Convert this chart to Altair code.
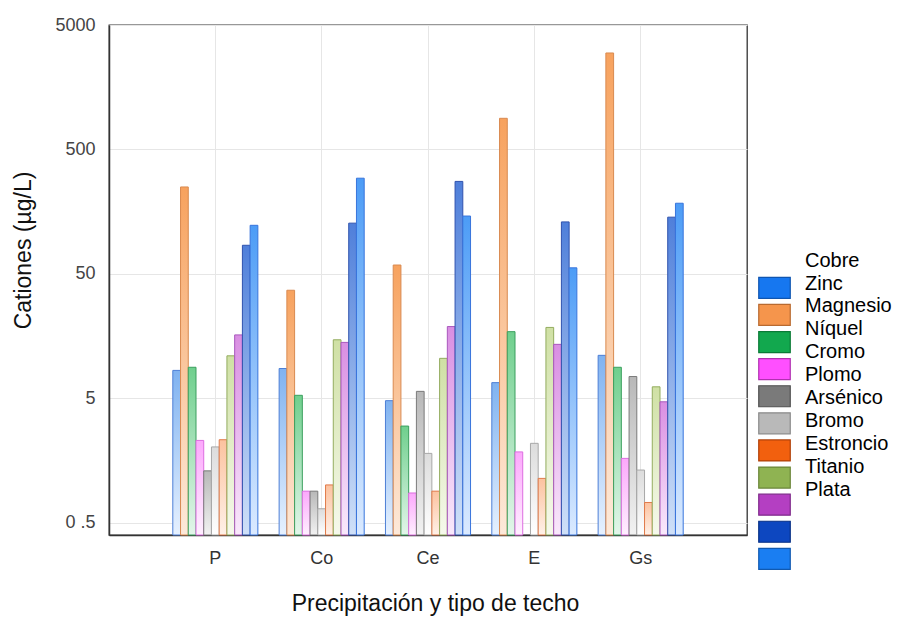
import altair as alt
import pandas as pd

groups = ["P", "Co", "Ce", "E", "Gs"]
series = ["Cobre", "Zinc", "Magnesio", "Níquel", "Cromo", "Plomo",
          "Arsénico", "Bromo", "Estroncio", "Titanio", "Plata"]

cobre = [8.4, 8.7, 4.8, 6.7, 11.1]
zinc = [250, 37, 59, 890, 2980]
magnesio = [8.9, 5.3, 3.0, 17.2, 8.9]
niquel = [2.3, 0.9, 0.87, 1.86, 1.65]
cromo = [1.31, 0.9, 5.7, None, 7.5]
plomo = [2.04, 0.65, 1.81, 2.18, 1.33]
arsenico = [2.33, 1.01, 0.90, 1.14, 0.73]
bromo = [11.0, 14.8, 10.5, 18.6, 6.2]
estroncio = [16.2, 14.1, 18.9, 13.6, 4.7]
titanio = [85, 128, 277, 131, 143]
plata = [123, 294, 146, 56, 185]

values = [cobre, zinc, magnesio, niquel, cromo, plomo,
          arsenico, bromo, estroncio, titanio, plata]

bar_top = ["#7fb2f0", "#f7a25e", "#6fcf8d", "#fca8fc", "#b8b8b8", "#dcdcdc",
           "#fcc29f", "#cfe0a4", "#d98ee2", "#4f7fda", "#4c9cf6"]
bar_bottom = ["#e6f1ff", "#fde9da", "#e3f6ea", "#fff0ff", "#f2f2f2", "#ffffff",
              "#fff1e8", "#f6f9ec", "#f9e9fb", "#cfe0f8", "#dbeaff"]
bar_stroke = ["#4d7fd6", "#d98a50", "#3b9f5e", "#dd6ee0", "#7a7a7a", "#a8a8a8",
              "#e07a4a", "#93ac5e", "#a957bd", "#2f52ae", "#3874dc"]

swatch_fill = ["#1677f0", "#f5954c", "#12a84e", "#ff4fff", "#7a7a7a", "#b9b9b9",
               "#f2600e", "#8fb352", "#b43fc2", "#0d47c0", "#1a7ef2"]
swatch_edge = ["#0f55b0", "#b86a30", "#0a7a36", "#b030b0", "#505050", "#8a8a8a",
               "#b04008", "#6a8538", "#7f2a8a", "#062f85", "#1059b0"]

y_ticks = [0.5, 5, 50, 500, 5000]
y_min, y_max = 0.4, 5000

rows = []
for s, vals in zip(series, values):
    for g, v in zip(groups, vals):
        if v is not None:
            rows.append({"grupo": g, "serie": s, "valor": v})
df = pd.DataFrame(rows)

W, H = 638, 510
FONT = "Liberation Sans"

x_enc = alt.X(
    "grupo:N", sort=groups,
    scale=alt.Scale(domain=groups, paddingInner=0.2, paddingOuter=0.6),
    axis=alt.Axis(title="Precipitación y tipo de techo", labelAngle=0,
                  labelFontSize=18, labelColor="#333", labelPadding=14,
                  titleFontSize=23, titleFontWeight="normal", titleColor="#111",
                  titleX=326, titleY=57, titleBaseline="top",
                  grid=True, bandPosition=0.5, ticks=False),
)
xo_enc = alt.XOffset("serie:N", scale=alt.Scale(domain=series, paddingInner=0, paddingOuter=0))
y_enc = alt.Y(
    "valor:Q",
    scale=alt.Scale(type="log", domain=[y_min, y_max], nice=False),
    axis=alt.Axis(values=y_ticks,
                  labelExpr="datum.value == 0.5 ? '0 .5' : format(datum.value, 'd')",
                  title="Cationes (µg/L)", labelFontSize=18, labelColor="#444",
                  labelPadding=14, titleFontSize=23, titleFontWeight="normal",
                  titleColor="#111", titleX=-74, titleY=225, titleAngle=270,
                  titleBaseline="bottom", titleAlign="center", grid=True, ticks=False),
)

bar_layers = []
for i, s in enumerate(series):
    grad = {
        "gradient": "linear", "x1": 0, "x2": 0, "y1": 0, "y2": 1,
        "stops": [{"offset": 0, "color": bar_top[i]},
                  {"offset": 1, "color": bar_bottom[i]}],
    }
    layer = (
        alt.Chart(df)
        .transform_filter(alt.datum.serie == s)
        .mark_bar(fill=grad, stroke=bar_stroke[i], strokeWidth=1)
        .encode(x=x_enc, xOffset=xo_enc, y=y_enc, y2=alt.datum(y_min))
    )
    bar_layers.append(layer)

bars = alt.layer(*bar_layers)

sw_df = pd.DataFrame({"i": list(range(len(series))), "fill": swatch_fill, "edge": swatch_edge})
lab_df = pd.DataFrame({"i": list(range(len(series))), "label": series})

swatches = alt.Chart(sw_df).mark_point(
    shape="M-1.5,-1H1.5V1H-1.5Z", size=441, filled=True, opacity=1, strokeWidth=1.2
).encode(
    x=alt.value(665.5),
    y=alt.Y("i:Q", scale=alt.Scale(domain=[-9.70, 9.12], reverse=True, nice=False, zero=False), axis=None),
    fill=alt.Fill("fill:N", scale=None),
    stroke=alt.Stroke("edge:N", scale=None),
)

labels = alt.Chart(lab_df).mark_text(
    align="left", baseline="middle", fontSize=20, font=FONT, color="#000"
).encode(
    x=alt.value(696),
    y=alt.Y("i:Q", scale=alt.Scale(domain=[-10.29, 11.98], reverse=True, nice=False, zero=False), axis=None),
    text="label:N",
)

chart = (
    alt.layer(bars, swatches, labels)
    .resolve_scale(y="independent")
    .properties(
        width=W, height=H,
        autosize=alt.AutoSizeParams(type="none"),
        padding={"left": 101, "top": 17, "right": 145, "bottom": 100},
        background="white",
    )
    .configure_view(stroke="#333", strokeWidth=1.3)
    .configure_axis(gridColor="#e6e6e6", domainColor="#333", domainWidth=1.5,
                    labelFont=FONT, titleFont=FONT)
)

chart.save("out.html", embed_options={"renderer": "svg", "actions": False})
